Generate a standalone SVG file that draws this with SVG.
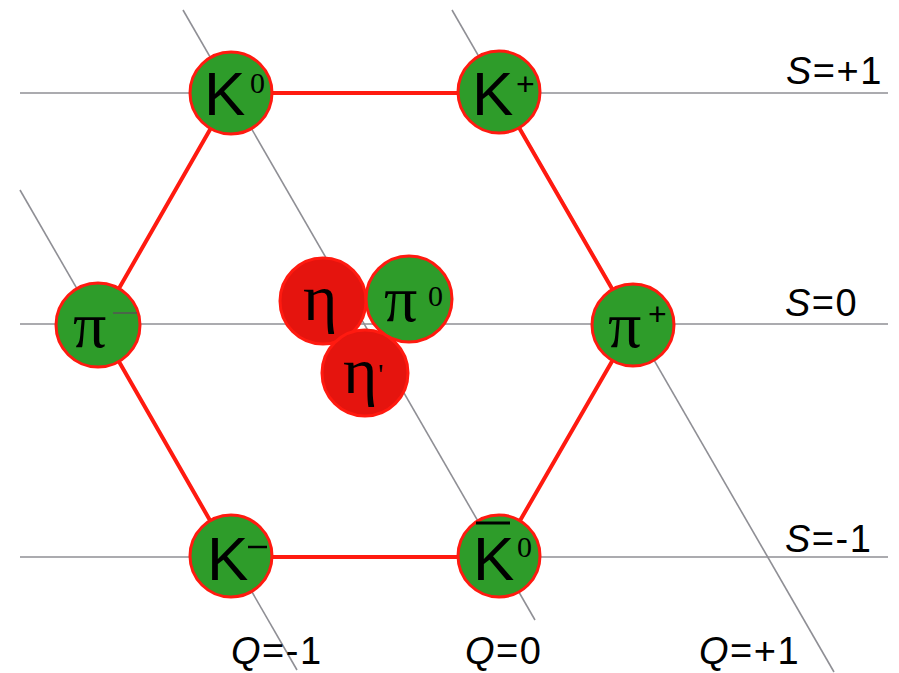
<svg xmlns="http://www.w3.org/2000/svg" width="899" height="673" viewBox="0 0 899 673">
<style>
.grid{stroke:#8f8f95;stroke-width:1.6;fill:none}
.edge{stroke:#ff1a10;stroke-width:4;fill:none}
.g{fill:#2e9c2a;stroke:#ff1a10;stroke-width:3}
.r{fill:#e5140e;stroke:#ff1a10;stroke-width:3}
.k{font-family:"Liberation Sans",Arial,sans-serif;font-size:62px;fill:#000}
.gr{font-family:"Liberation Serif","Times New Roman",serif;font-size:66px;fill:#000}
.sup{font-family:"Liberation Serif","Times New Roman",serif;font-size:30px;fill:#000}
.supp{font-family:"Liberation Sans",Arial,sans-serif;font-size:32px;fill:#000}
.lab{font-family:"Liberation Sans",Arial,sans-serif;font-size:38px;letter-spacing:1.5px;fill:#000}
</style>
<rect width="899" height="673" fill="#fff"/>
<g id="grid">
<line class="grid" x1="20" y1="93" x2="888" y2="93"/>
<line class="grid" x1="20" y1="324" x2="888" y2="324"/>
<line class="grid" x1="20" y1="557" x2="888" y2="557"/>
<line class="grid" x1="20" y1="190" x2="297" y2="670"/>
<line class="grid" x1="183" y1="10" x2="535" y2="620"/>
<line class="grid" x1="452" y1="10" x2="834" y2="672"/>
</g>
<g id="connectors">
<polygon class="edge" points="231,93 499,93 633,325 499,557 231,557 98,325"/>
</g>
<g id="K0"><circle class="g" cx="231" cy="93" r="41"/><text class="k" x="204" y="115">K</text><text class="sup" x="250" y="93">0</text></g>
<g id="Kplus"><circle class="g" cx="499" cy="92" r="41"/><text class="k" x="472" y="115">K</text><text class="supp" x="516" y="95">+</text></g>
<g id="piminus"><circle class="g" cx="98" cy="325" r="42"/><text class="gr" x="73" y="347">π</text><line x1="113" y1="313" x2="137" y2="313" stroke="#555" stroke-width="1.5"/></g>
<g id="piplus"><circle class="g" cx="633" cy="325" r="41"/><text class="gr" x="608" y="347">π</text><text class="supp" x="648" y="325" fill="#555">+</text></g>
<g id="Kminus"><circle class="g" cx="231" cy="556" r="41"/><text class="k" x="207" y="580">K</text><line x1="248" y1="547" x2="267" y2="547" stroke="#000" stroke-width="2.5"/></g>
<g id="K0bar"><circle class="g" cx="499" cy="556" r="41"/><text class="k" x="473" y="580">K</text><line x1="476" y1="523" x2="510" y2="523" stroke="#000" stroke-width="3"/><text class="sup" x="517" y="557">0</text></g>
<g id="eta"><circle class="r" cx="323" cy="301" r="43"/><text class="gr" x="303" y="320">η</text></g>
<g id="pi0"><circle class="g" cx="409" cy="299" r="43"/><text class="gr" x="384" y="321">π</text><text class="sup" x="428" y="306">0</text></g>
<g id="etaprime"><circle class="r" cx="365" cy="373" r="43"/><text class="gr" x="343" y="393">η</text><text class="sup" x="378" y="384" font-size="40">'</text></g>
<g id="labels">
<text class="lab" x="786" y="84"><tspan font-style="italic">S</tspan>=+1</text>
<text class="lab" x="785" y="316"><tspan font-style="italic">S</tspan>=0</text>
<text class="lab" x="785" y="552"><tspan font-style="italic">S</tspan>=-1</text>
<text class="lab" x="231" y="664"><tspan font-style="italic">Q</tspan>=-1</text>
<text class="lab" x="465" y="664"><tspan font-style="italic">Q</tspan>=0</text>
<text class="lab" x="699" y="664"><tspan font-style="italic">Q</tspan>=+1</text>
</g>
</svg>
